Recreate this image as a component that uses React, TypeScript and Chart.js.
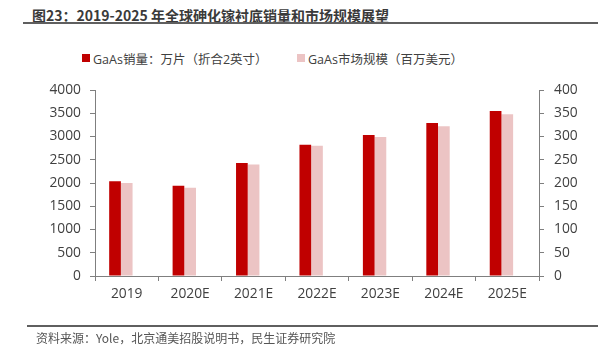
import React, { useEffect, useRef } from "react";
import { Chart, registerables } from "chart.js";

Chart.register(...registerables);

const categories = ["2019", "2020E", "2021E", "2022E", "2023E", "2024E", "2025E"];
const salesWafers = [2040, 1940, 2430, 2820, 3030, 3290, 3550];
const marketSize = [200, 190, 240, 280, 299, 322, 348];
const spacer = [null, null, null, null, null, null, null];

const leftTicks = { min: 0, max: 4000, step: 500 };
const rightTicks = { min: 0, max: 400, step: 50 };

const seriesNames = ["GaAs销量：万片（折合2英寸）", "GaAs市场规模（百万美元）"];
const seriesColors = ["#c00000", "#ecc4c4"];
const titleText = "图23：2019-2025 年全球砷化镓衬底销量和市场规模展望";
const sourceText = "资料来源：Yole，北京通美招股说明书，民生证券研究院";

const FONT = "'Open Sans', 'Noto Sans CJK SC', sans-serif";
const AXIS_COLOR = "#7f7f7f";
const TEXT_COLOR = "#404040";
const TICK_SIZE = 13.8;

export default function App() {
  const canvasRef = useRef<HTMLCanvasElement | null>(null);

  useEffect(() => {
    const canvas = canvasRef.current;
    if (!canvas) return;
    const chart = new Chart(canvas, {
      type: "bar",
      data: {
        labels: categories,
        datasets: [
          {
            label: seriesNames[0],
            data: salesWafers,
            backgroundColor: seriesColors[0],
            yAxisID: "y",
            barPercentage: 1,
            categoryPercentage: 0.553,
          },
          {
            label: seriesNames[1],
            data: marketSize,
            backgroundColor: seriesColors[1],
            yAxisID: "y1",
            barPercentage: 1,
            categoryPercentage: 0.553,
          },
          {
            label: "",
            data: spacer,
            backgroundColor: "rgba(0,0,0,0)",
            yAxisID: "y",
            barPercentage: 1,
            categoryPercentage: 0.553,
          },
        ],
      },
      options: {
        responsive: false,
        animation: false,
        layout: { padding: { top: 90, left: 0, right: 0, bottom: 54 } },
        plugins: {
          title: { display: false },
          tooltip: { enabled: false },
          legend: { display: false },
        },
        scales: {
          x: {
            offset: true,
            grid: {
              display: true,
              offset: true,
              drawOnChartArea: false,
              drawTicks: true,
              tickLength: 5,
              color: AXIS_COLOR,
            },
            border: { display: true, color: AXIS_COLOR, width: 1 },
            ticks: { color: TEXT_COLOR, font: { family: FONT, size: TICK_SIZE }, padding: 5 },
            afterFit: (scale: any) => {
              scale.height = 30;
            },
          },
          y: {
            position: "left",
            min: leftTicks.min,
            max: leftTicks.max,
            ticks: {
              stepSize: leftTicks.step,
              color: TEXT_COLOR,
              font: { family: FONT, size: TICK_SIZE },
              padding: 9,
              callback: (v: any) => String(v),
            },
            grid: {
              display: true,
              drawOnChartArea: false,
              drawTicks: true,
              tickLength: 5,
              color: AXIS_COLOR,
            },
            border: { display: true, color: AXIS_COLOR, width: 1 },
            afterFit: (scale: any) => {
              scale.width = 95;
            },
          },
          y1: {
            position: "right",
            min: rightTicks.min,
            max: rightTicks.max,
            ticks: {
              stepSize: rightTicks.step,
              color: TEXT_COLOR,
              font: { family: FONT, size: TICK_SIZE },
              padding: 10,
              callback: (v: any) => String(v),
            },
            grid: {
              display: true,
              drawOnChartArea: false,
              drawTicks: true,
              tickLength: 5,
              color: AXIS_COLOR,
            },
            border: { display: true, color: AXIS_COLOR, width: 1 },
            afterFit: (scale: any) => {
              scale.width = 66;
            },
          },
        },
      },
    });
    return () => chart.destroy();
  }, []);

  const legendItem = (i: number, left: number) => (
    <div
      key={i}
      style={{
        position: "absolute",
        left,
        top: 49,
        height: 18,
        display: "flex",
        alignItems: "center",
        whiteSpace: "nowrap",
        fontSize: 12.5,
        color: TEXT_COLOR,
        fontFamily: FONT,
      }}
    >
      <span
        style={{
          display: "inline-block",
          width: 8,
          height: 8,
          background: seriesColors[i],
          marginRight: 3,
        }}
      />
      <span>{seriesNames[i]}</span>
    </div>
  );

  return (
    <div
      style={{
        position: "fixed",
        left: 0,
        top: 0,
        width: 605,
        height: 360,
        background: "#ffffff",
        fontFamily: FONT,
      }}
    >
      <div
        style={{
          position: "absolute",
          left: 32,
          top: 5,
          fontSize: 14,
          fontWeight: 700,
          color: "#3a3a3a",
          whiteSpace: "nowrap",
          lineHeight: "20px",
          fontFamily: "'Noto Sans CJK SC', sans-serif",
        }}
      >
        {titleText}
      </div>
      <div
        style={{
          position: "absolute",
          left: 23,
          top: 22,
          width: 575,
          height: 2,
          background: "#5f5f5f",
        }}
      />
      {legendItem(0, 82)}
      {legendItem(1, 297)}
      <canvas
        ref={canvasRef}
        width={605}
        height={360}
        style={{ position: "absolute", left: 0, top: 0, width: 605, height: 360 }}
      />
      <div
        style={{
          position: "absolute",
          left: 27,
          top: 325,
          width: 571,
          height: 2,
          background: "#5f5f5f",
        }}
      />
      <div
        style={{
          position: "absolute",
          left: 36,
          top: 330,
          fontSize: 12,
          color: "#555555",
          whiteSpace: "nowrap",
          lineHeight: "16px",
          fontFamily: "'Noto Sans CJK SC', sans-serif",
        }}
      >
        {sourceText}
      </div>
    </div>
  );
}
